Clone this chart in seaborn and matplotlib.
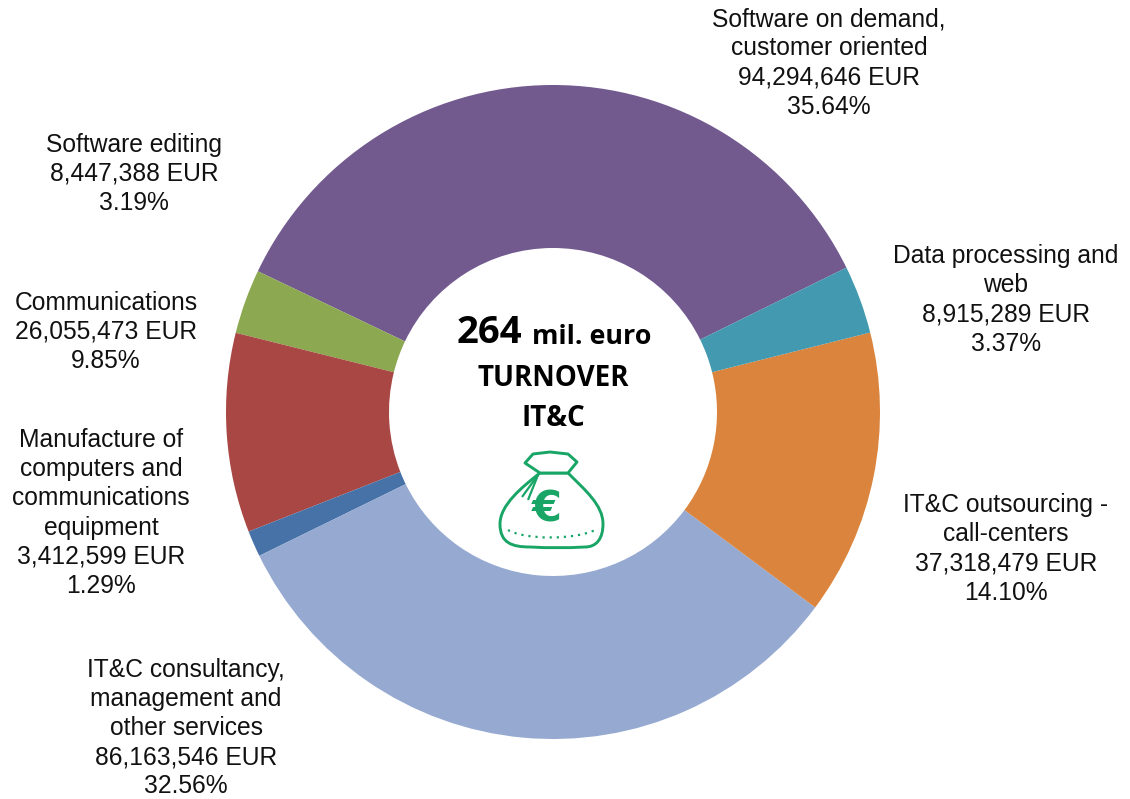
import matplotlib
matplotlib.use("Agg")
import matplotlib.pyplot as plt
from matplotlib.patches import PathPatch
from matplotlib.path import Path
import seaborn as sns

sns.set_theme(style="white")
plt.rcParams['font.family'] = ['Liberation Sans', 'DejaVu Sans']

categories = ["Software on demand,\ncustomer oriented", "Software editing", "Communications",
              "Manufacture of\ncomputers and\ncommunications\nequipment",
              "IT&C consultancy,\nmanagement and\nother services",
              "IT&C outsourcing -\ncall-centers", "Data processing and\nweb"]
amounts = ["94,294,646", "8,447,388", "26,055,473", "3,412,599", "86,163,546", "37,318,479", "8,915,289"]
shares = [35.64, 3.19, 9.85, 1.29, 32.56, 14.10, 3.37]
colors = ["#725A8F", "#8CA851", "#A84744", "#4672A8", "#95A9D1", "#DB843D", "#4299B0"]
label_px = [(829, 63), (134, 174), (106, 332), (101, 513), (186, 728), (1006, 549), (1006, 300)]

W, H = 1130, 799
fig = plt.figure(figsize=(W / 100, H / 100), dpi=100, facecolor="white")
ax = fig.add_axes([0, 0, 1, 1])

cx, cy, R = 553, 412, 327
# y axis is inverted, so angles are mirrored to keep the counter-clockwise order on screen
wedges, _ = ax.pie(shares, colors=sns.color_palette(colors), center=(cx, cy), radius=R,
                   startangle=-26.2, counterclock=False, frame=True,
                   wedgeprops=dict(width=R - 164, linewidth=0))
ax.set_xlim(0, W)
ax.set_ylim(H, 0)
ax.set_aspect("equal")
ax.axis("off")

for name, amt, pct, (x, y) in zip(categories, amounts, shares, label_px):
    ax.text(x, y, f"{name}\n{amt} EUR\n{pct:.2f}%", ha="center", va="center",
            fontsize=17.7, color="#111111", linespacing=1.27)

bold = ['Open Sans', 'DejaVu Sans']
ax.text(457, 333, "264", ha="left", va="center", fontsize=27.5, fontweight="bold", family=bold, color="black")
ax.text(532, 337, "mil. euro", ha="left", va="center", fontsize=19.4, fontweight="bold", family=bold, color="black")
ax.text(553, 378, "TURNOVER", ha="center", va="center", fontsize=20, fontweight="bold", family=bold, color="black")
ax.text(553, 418, "IT&C", ha="center", va="center", fontsize=20, fontweight="bold", family=bold, color="black")

# money bag icon
green = "#18A566"
C4, C3 = Path.CURVE4, Path.CURVE3
bag = Path([(540, 473), (522, 487), (500, 505), (500, 524), (500, 543), (512, 547), (530, 547),
            (550, 548), (565, 548), (585, 547), (597, 547), (603, 538), (603, 524),
            (603, 505), (585, 490), (568, 473), (540, 473)],
           [Path.MOVETO, C4, C4, C4, C4, C4, C4, C4, C4, C4, C4, C4, C4, C4, C4, C4, Path.CLOSEPOLY])
ax.add_patch(PathPatch(bag, fc="white", ec=green, lw=2.1))
neck = Path([(540, 473), (525, 463), (533, 454), (550, 452), (568, 454), (577, 462), (568, 473), (540, 473)],
            [Path.MOVETO, Path.LINETO, Path.LINETO, Path.LINETO, Path.LINETO, Path.LINETO, Path.LINETO,
             Path.CLOSEPOLY])
ax.add_patch(PathPatch(neck, fc="white", ec=green, lw=2.1, joinstyle="round"))
for end in [(522, 497), (528, 500)]:
    ax.add_patch(PathPatch(Path([(538, 475), end]), fc="none", ec=green, lw=1.6))
dots = Path([(508, 530), (525, 540), (575, 540), (595, 530)], [Path.MOVETO, C4, C4, C4])
ax.add_patch(PathPatch(dots, fc="none", ec=green, lw=1.6, linestyle=(0, (1, 2.2))))
ax.text(547, 510, "€", ha="center", va="center", fontsize=31, fontweight="bold", color=green, family=['DejaVu Sans'])

fig.savefig("out.png", dpi=100, facecolor="white")
